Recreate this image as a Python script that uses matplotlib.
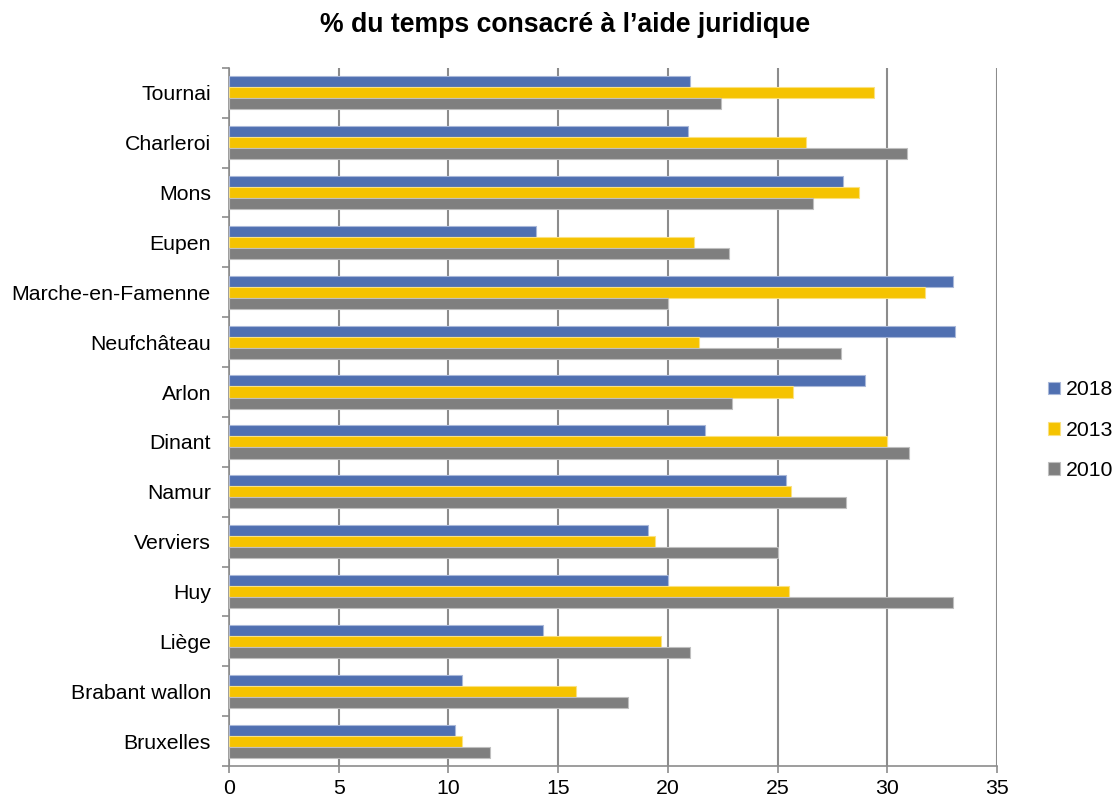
import matplotlib
matplotlib.use('Agg')
import matplotlib.pyplot as plt
import numpy as np

plt.rcParams['font.family'] = ['Liberation Sans', 'DejaVu Sans']

# Data (top to bottom)
courts = ['Tournai', 'Charleroi', 'Mons', 'Eupen', 'Marche-en-Famenne', 'Neufchâteau',
          'Arlon', 'Dinant', 'Namur', 'Verviers', 'Huy', 'Liège', 'Brabant wallon', 'Bruxelles']
v2018 = [21.0, 20.9, 28.0, 14.0, 33.0, 33.1, 29.0, 21.7, 25.4, 19.1, 20.0, 14.3, 10.6, 10.3]
v2013 = [29.4, 26.3, 28.7, 21.2, 31.7, 21.4, 25.7, 30.0, 25.6, 19.4, 25.5, 19.7, 15.8, 10.6]
v2010 = [22.4, 30.9, 26.6, 22.8, 20.0, 27.9, 22.9, 31.0, 28.1, 25.0, 33.0, 21.0, 18.2, 11.9]
years = ['2018', '2013', '2010']
colors = ['#5070B1', '#F5C300', '#7F7F7F']
edges = ['#A9B8D9', '#FAE180', '#BFBFBF']

fig = plt.figure(figsize=(11.14, 7.98), dpi=100)
ax = fig.add_axes([0.2056, 0.040, 0.6894, 0.875])

n = len(courts)
y = np.arange(n)[::-1]
h = 0.222
for i, (vals, c, ec, lab) in enumerate(zip([v2018, v2013, v2010], colors, edges, years)):
    ax.barh(y + (1 - i) * h, vals, height=h, color=c, edgecolor=ec, linewidth=0.8,
            label=lab, zorder=3)

ax.set_xlim(0, 35)
ax.set_ylim(-0.5, n - 0.5)
ax.set_xticks(np.arange(0, 36, 5))
ax.set_yticks(y)
ax.set_yticklabels(courts)
ax.set_yticks(np.arange(-0.5, n, 1), minor=True)
ax.tick_params(axis='y', which='major', length=0, pad=13, labelsize=15.3)
ax.tick_params(axis='y', which='minor', length=5, width=1.2, color='#8c8c8c')
ax.tick_params(axis='x', length=5, width=1.2, color='#8c8c8c', labelsize=15.3, pad=4)

ax.grid(axis='x', color='#8c8c8c', linewidth=1.5, zorder=0)
for s in ['top', 'right']:
    ax.spines[s].set_visible(False)
for s in ['left', 'bottom']:
    ax.spines[s].set_color('#8c8c8c')
    ax.spines[s].set_linewidth(1.2)

fig.suptitle('% du temps consacré à l’aide juridique', fontsize=19.2, fontweight='bold',
             x=0.507, y=0.985)

leg = ax.legend(loc='center left', bbox_to_anchor=(1.042, 0.481), frameon=False,
                fontsize=15.3, handlelength=0.55, handleheight=0.55, handletextpad=0.25,
                labelspacing=1.0)

fig.savefig('out.png', dpi=100)
